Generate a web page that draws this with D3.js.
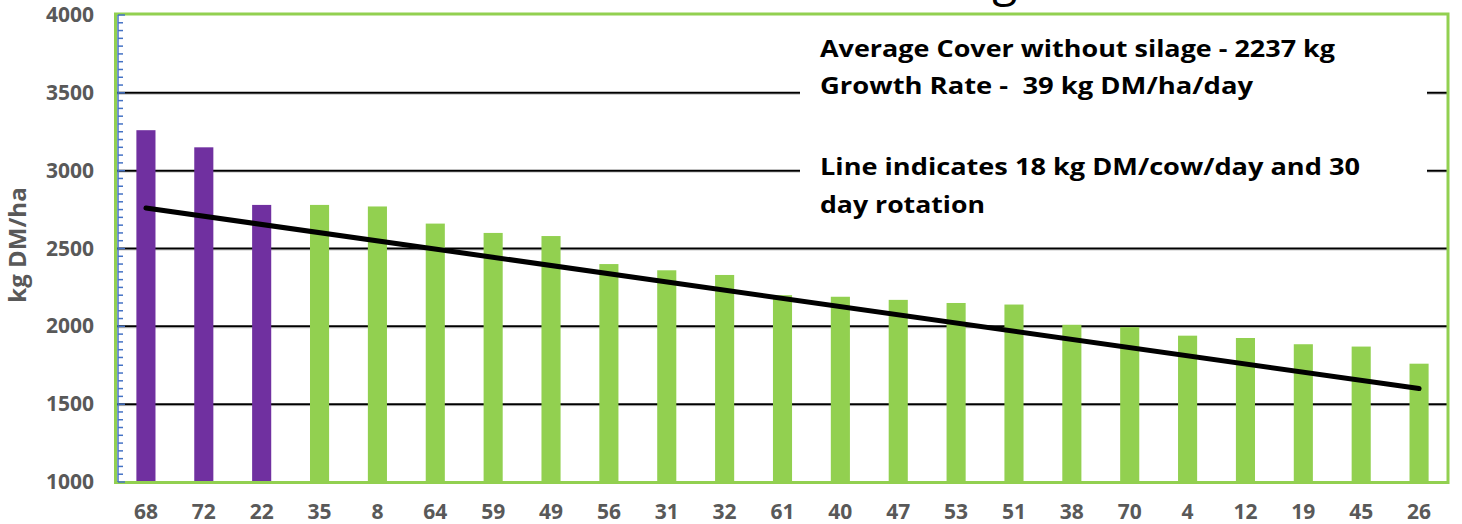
<!DOCTYPE html>
<html><head><meta charset="utf-8">
<script src="https://cdn.jsdelivr.net/npm/d3@7"></script>
<style>
html,body{margin:0;padding:0;background:#fff;}
svg{display:block;}
text{font-family:"Open Sans","Noto Sans",sans-serif;}
</style></head>
<body>
<svg id="chart" width="1462" height="524"></svg>
<script>
// ---- data ----
const categories = ["68","72","22","35","8","64","59","49","56","31","32","61","40","47","53","51","38","70","4","12","19","45","26"];
const covers = [3260,3150,2780,2780,2770,2660,2600,2580,2400,2360,2330,2200,2190,2170,2150,2140,2010,1995,1940,1925,1885,1870,1760];
const silageCats = ["68","72","22"];
const lineCats = ["68","26"];
const lineValues = [2760,1600];
const yTicks = [1000,1500,2000,2500,3000,3500,4000];
const titleText = "Grass Wedge";
const noteLines = ["Average Cover without silage - 2237 kg","Growth Rate -  39 kg DM/ha/day","","Line indicates 18 kg DM/cow/day and 30","day rotation"];

// ---- layout ----
const svg = d3.select("#chart");
const L = 117, R = 1448, T = 15, B = 482;
const x = d3.scaleBand().domain(categories).range([L, R]).paddingInner(0.67).paddingOuter(0.335);
const y = d3.scaleLinear().domain([1000, 4000]).range([B, T]);

// gridlines
const grid = svg.append("g");
yTicks.filter(v => v > 1000 && v < 4000).forEach(v => {
  grid.append("line").attr("x1", L).attr("x2", R).attr("y1", y(v) + 1.5).attr("y2", y(v) + 1.5)
    .attr("stroke", "#c8c8c8").attr("stroke-width", 1);
  grid.append("line").attr("x1", L).attr("x2", R).attr("y1", y(v)).attr("y2", y(v))
    .attr("stroke", "#000").attr("stroke-width", 2);
});

// bars
svg.append("g").selectAll("rect").data(categories).join("rect")
  .attr("x", d => x(d)).attr("width", x.bandwidth())
  .attr("y", (d, i) => y(covers[i])).attr("height", (d, i) => y(1000) - y(covers[i]))
  .attr("fill", d => silageCats.includes(d) ? "#7030A0" : "#92D050");

// text box (white, covers gridlines)
svg.append("rect").attr("x", 800).attr("y", 22).attr("width", 627).attr("height", 224).attr("fill", "#fff");
const noteY = [57, 94, 0, 175, 213];
const noteW = [515, 433, 0, 540, 165];
noteLines.forEach((t, i) => {
  if (!t) return;
  svg.append("text").attr("x", 820).attr("y", noteY[i]).text(t)
    .attr("font-size", 23).attr("font-weight", 700).attr("fill", "#000")
    .attr("textLength", noteW[i]).attr("lengthAdjust", "spacingAndGlyphs")
    .style("white-space", "pre");
});

// trend line
svg.append("path")
  .datum(lineCats.map((c, i) => [x(c) + x.bandwidth() / 2, y(lineValues[i])]))
  .attr("d", d3.line())
  .attr("fill", "none").attr("stroke", "#000").attr("stroke-width", 5).attr("stroke-linecap", "round");

// plot border
svg.append("rect").attr("x", L - 1.5).attr("y", T - 1).attr("width", R - L + 1.5).attr("height", B - T + 1.5)
  .attr("fill", "none").attr("stroke", "#92D050").attr("stroke-width", 3);

// left axis (blue with minor ticks)
const ax = svg.append("g").attr("transform", `translate(${L + 1},0)`);
ax.append("line").attr("y1", T).attr("y2", B).attr("stroke", "#4472C4").attr("stroke-width", 1.5);
const minor = d3.range(1000, 4001, 50);
ax.selectAll("line.m").data(minor).join("line").attr("class", "m")
  .attr("x1", 0).attr("x2", d => d % 500 === 0 ? 7 : 5)
  .attr("y1", d => y(d)).attr("y2", d => y(d))
  .attr("stroke", "#4472C4").attr("stroke-width", 1.5);

// y tick labels
svg.append("g").selectAll("text").data(yTicks).join("text")
  .attr("x", 94).attr("y", d => y(d) + 7).attr("text-anchor", "end")
  .attr("font-size", 21).attr("font-weight", 700).attr("fill", "#595959")
  .text(d => d);

// x tick labels
svg.append("g").selectAll("text").data(categories).join("text")
  .attr("x", d => x(d) + x.bandwidth() / 2).attr("y", 519).attr("text-anchor", "middle")
  .attr("font-size", 21).attr("font-weight", 700).attr("fill", "#595959")
  .text(d => d);

// y axis title
svg.append("text").attr("transform", "translate(26,245) rotate(-90)").attr("text-anchor", "middle")
  .attr("font-size", 24).attr("font-weight", 700).attr("fill", "#595959").text("kg DM/ha");

// clipped title (only descender visible)
svg.append("text").attr("x", 1043).attr("y", -4).attr("text-anchor", "end")
  .attr("font-size", 46).attr("fill", "#000").attr("font-family", "Liberation Serif, serif").text(titleText);
</script>
</body></html>
